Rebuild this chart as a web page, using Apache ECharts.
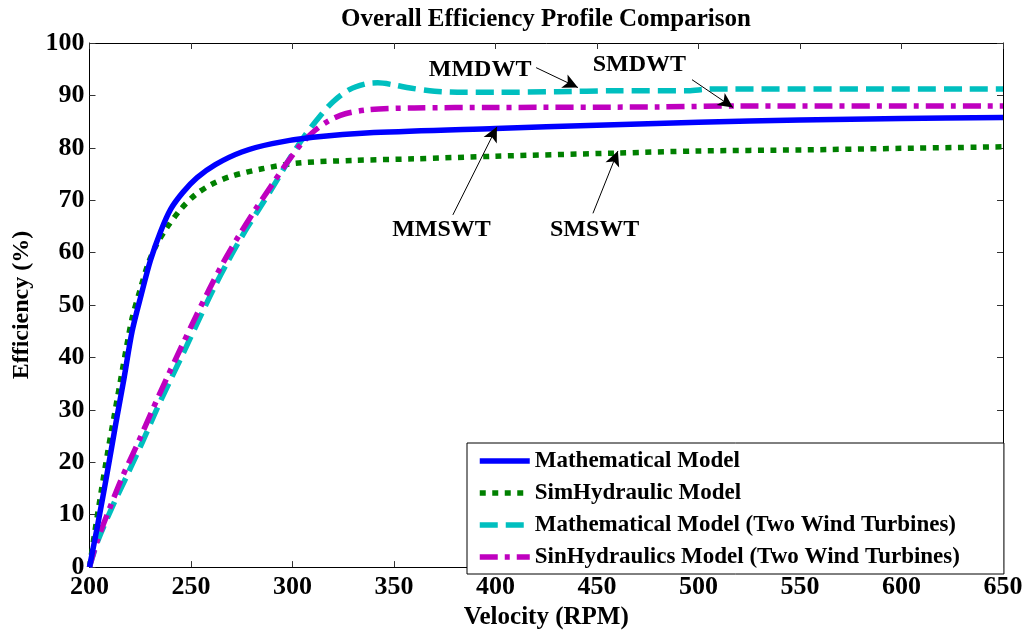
<!DOCTYPE html>
<html>
<head>
<meta charset="utf-8">
<script src="https://cdn.jsdelivr.net/npm/echarts@6/dist/echarts.min.js"></script>
<style>
html,body{margin:0;padding:0;background:#fff;}
#chart{width:1026px;height:635px;}
</style>
</head>
<body>
<div id="chart"></div>
<script>
// ---------- data ----------
var seriesNames = ['Mathematical Model', 'SimHydraulic Model', 'Mathematical Model (Two Wind Turbines)', 'SinHydraulics Model (Two Wind Turbines)'];

var rpmMath = [200, 204, 208.5, 213, 217, 221, 225.5, 230, 235, 240, 246, 253, 262, 275, 290, 310, 340, 400, 450, 500, 550, 600, 650];
var effMath = [0, 8, 17.5, 27.5, 36, 45, 52, 58.5, 64, 68.3, 71.5, 74.3, 76.8, 79.2, 80.8, 82, 82.9, 83.7, 84.3, 84.9, 85.3, 85.6, 85.8];

var rpmSim = [200, 202.7, 206, 209, 212, 215, 218, 221, 225, 229, 233, 238, 245, 252, 260, 270, 285, 303, 330, 360, 400, 460, 500, 550, 600, 650];
var effSim = [0, 6.9, 15, 22, 28.5, 35, 41.5, 47.5, 53, 58, 61.5, 64.7, 68.3, 71, 73, 74.6, 76, 77.1, 77.6, 77.9, 78.4, 79, 79.4, 79.6, 79.9, 80.2];

var rpmMathTwo = [200, 204, 211, 218.5, 226, 233, 240, 247, 254, 261, 268, 276, 284, 292, 299, 306, 313, 320, 328, 336, 342, 350, 358, 370, 385, 400, 430, 460, 495, 505, 650];
var effMathTwo = [0, 4.9, 11.3, 17.5, 23.8, 30, 35.8, 41.5, 47.3, 53, 58.2, 63.7, 68.6, 73.6, 78.2, 82.3, 85.8, 88.8, 91.1, 92.2, 92.4, 92, 91.4, 90.8, 90.6, 90.6, 90.7, 90.9, 90.9, 91.2, 91.2];

var rpmSimTwo = [200, 203.7, 210, 216.5, 224, 231, 238, 245, 252, 259, 266, 274, 282, 290, 297, 304, 311, 318, 326, 338, 360, 400, 480, 520, 650];
var effSimTwo = [0, 4.9, 11.3, 17.5, 23.8, 30, 36, 41.8, 47.5, 53, 58.2, 63.5, 68.4, 73, 77, 80.6, 83.3, 85.2, 86.5, 87.3, 87.6, 87.7, 87.8, 88, 88];

var xTicks = [200, 250, 300, 350, 400, 450, 500, 550, 600, 650];
var yTicks = [0, 10, 20, 30, 40, 50, 60, 70, 80, 90, 100];

// annotations: label, label anchor (rpm, eff), arrow start, arrow tip
var annLabels = ['MMDWT', 'SMDWT', 'MMSWT', 'SMSWT'];
var annTextAt = [[392.4, 94.9], [470.9, 95.8], [373.4, 64.3], [448.8, 64.3]];
var annFrom   = [[420, 95.3], [496.8, 93], [379, 67.2], [448, 67.5]];
var annTo     = [[440.6, 91.5], [517, 87.7], [400.7, 84], [460.3, 79.4]];

// ---------- chart ----------
var FONT = "'Liberation Serif', 'Times New Roman', serif";
var colors = ['#0000ff', '#008000', '#00bfbf', '#bf00bf'];
var dashes = ['solid', [6, 6.5], [18, 8], [18, 7, 5, 7]];
var xs = [rpmMath, rpmSim, rpmMathTwo, rpmSimTwo];
var ys = [effMath, effSim, effMathTwo, effSimTwo];

function pairs(a, b) { return a.map(function (v, i) { return [v, b[i]]; }); }

var series = seriesNames.map(function (name, k) {
  return {
    name: name,
    type: 'line',
    xAxisIndex: 0, yAxisIndex: 0,
    data: pairs(xs[k], ys[k]),
    symbol: 'none',
    smooth: 0.3,
    z: 3 + (k === 0 ? 1 : 0),
    lineStyle: { color: colors[k], width: 5.5, type: dashes[k], cap: 'butt', join: 'round' },
    itemStyle: { color: colors[k] },
    silent: true
  };
});

// arrows + annotation labels
series.push({
  name: 'arrows', type: 'line', data: [], symbol: 'none', silent: true,
  markLine: {
    silent: true,
    symbol: ['none', 'arrow'],
    symbolSize: [11, 15],
    label: { show: false },
    lineStyle: { color: '#000', width: 1, type: 'solid' },
    data: annFrom.map(function (f, i) { return [{ coord: f }, { coord: annTo[i] }]; })
  },
  markPoint: {
    silent: true,
    symbol: 'circle', symbolSize: 1,
    itemStyle: { color: 'rgba(0,0,0,0)' },
    label: {
      show: true, position: 'inside', formatter: '{b}',
      fontFamily: FONT, fontWeight: 'bold', fontSize: 24, color: '#000',
      textBorderWidth: 0, opacity: 1
    },
    data: annTextAt.map(function (p, i) { return { coord: p, name: annLabels[i] }; })
  }
});

var axisCommon = {
  axisLine: { show: true, onZero: false, lineStyle: { color: '#000', width: 1 } },
  axisTick: { show: true, inside: true, length: 6, lineStyle: { color: '#333' } },
  splitLine: { show: false }
};

var option = {
  animation: false,
  backgroundColor: '#fff',
  title: {
    text: 'Overall Efficiency Profile Comparison',
    left: 541, top: 2, textAlign: 'center',
    textStyle: { fontFamily: FONT, fontWeight: 'bold', fontSize: 25, color: '#000' }
  },
  grid: { left: 89.5, right: 23, top: 43, bottom: 62 },
  legend: {
    data: seriesNames,
    orient: 'vertical',
    left: 467, top: 443,
    padding: [6, 44, 5, 10],
    itemGap: 8,
    itemWidth: 50, itemHeight: 14,
    backgroundColor: '#fff',
    borderColor: '#000', borderWidth: 1, borderRadius: 0,
    itemStyle: { opacity: 0 },
    lineStyle: { width: 5.5, cap: 'butt' },
    textStyle: { fontFamily: FONT, fontWeight: 'bold', fontSize: 23, color: '#000', lineHeight: 24 },
    selectedMode: false
  },
  xAxis: [
    Object.assign({
      type: 'value', min: xTicks[0], max: xTicks[xTicks.length - 1], interval: 50,
      position: 'bottom',
      name: 'Velocity (RPM)', nameLocation: 'middle', nameGap: 34,
      nameTextStyle: { fontFamily: FONT, fontWeight: 'bold', fontSize: 25, color: '#000' },
      axisLabel: { margin: 7, fontFamily: FONT, fontWeight: 'bold', fontSize: 26, color: '#000' }
    }, axisCommon),
    Object.assign({
      type: 'value', min: xTicks[0], max: xTicks[xTicks.length - 1], interval: 50,
      position: 'top', axisLabel: { show: false }
    }, axisCommon)
  ],
  yAxis: [
    Object.assign({
      type: 'value', min: yTicks[0], max: yTicks[yTicks.length - 1], interval: 10,
      position: 'left',
      name: 'Efficiency (%)', nameLocation: 'middle', nameGap: 56,
      nameTextStyle: { fontFamily: FONT, fontWeight: 'bold', fontSize: 24, color: '#000' },
      axisLabel: { margin: 5, fontFamily: FONT, fontWeight: 'bold', fontSize: 26, color: '#000' }
    }, axisCommon),
    Object.assign({
      type: 'value', min: yTicks[0], max: yTicks[yTicks.length - 1], interval: 10,
      position: 'right', axisLabel: { show: false }
    }, axisCommon)
  ],
  series: series
};

var chart = echarts.init(document.getElementById('chart'), null, { renderer: 'canvas' });
chart.setOption(option);
</script>
</body>
</html>
